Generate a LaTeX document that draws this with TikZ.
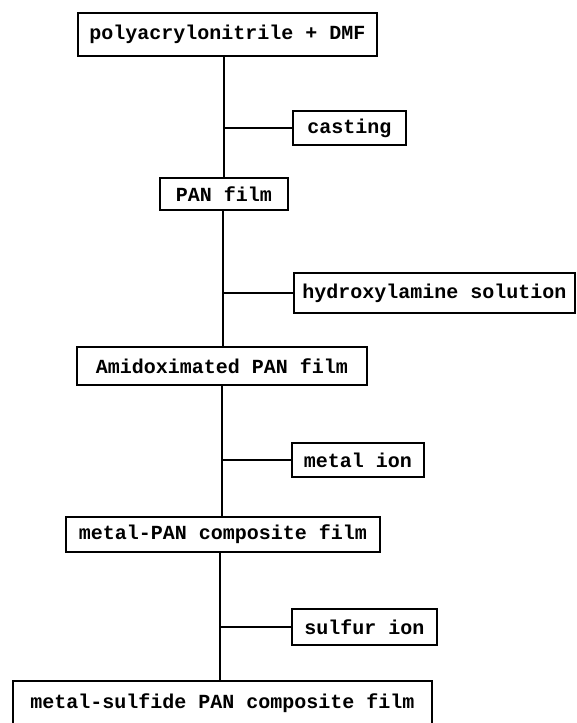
\documentclass[tikz,border=0pt]{standalone}
\usepackage{fontspec}
\setmonofont{Liberation Mono}
\begin{document}
\begin{tikzpicture}[x=1pt,y=-1pt,
  box/.style={draw,line width=1.6pt,rectangle,inner sep=0pt,font=\ttfamily\bfseries\fontsize{20}{22}\selectfont,anchor=center},
  link/.style={line width=1.6pt}]
\useasboundingbox (0,0) rectangle (577,723);
\node[box,minimum width=299,minimum height=43] (n1) at (227.5,34.5) {polyacrylonitrile + DMF};
\node[box,minimum width=113,minimum height=34] (cast) at (349.5,128) {casting};
\node[box,minimum width=128,minimum height=32] (pan) at (224,194) {PAN film};
\node[box,minimum width=281,minimum height=40] (hyd) at (434.5,293) {hydroxylamine solution};
\node[box,minimum width=290,minimum height=38] (ami) at (222,366) {Amidoximated PAN film};
\node[box,minimum width=132,minimum height=34] (mion) at (358,460) {metal ion};
\node[box,minimum width=314,minimum height=35] (mpan) at (223,534.5) {metal-PAN composite film};
\node[box,minimum width=145,minimum height=36] (sion) at (364.5,627) {sulfur ion};
\node[box,minimum width=419,minimum height=45] (fin) at (222.5,703.5) {metal-sulfide PAN composite film};
\coordinate (j1) at (224,128);
\coordinate (j2) at (223,293);
\coordinate (j3) at (222,460);
\coordinate (j4) at (220,627);
\draw[link] (n1.south -| j1) -- (pan.north -| j1);
\draw[link] (pan.south -| j2) -- (ami.north -| j2);
\draw[link] (ami.south -| j3) -- (mpan.north -| j3);
\draw[link] (mpan.south -| j4) -- (fin.north -| j4);
\draw[link] (cast.west) -- (j1);
\draw[link] (hyd.west) -- (j2);
\draw[link] (mion.west) -- (j3);
\draw[link] (sion.west) -- (j4);
\end{tikzpicture}
\end{document}
